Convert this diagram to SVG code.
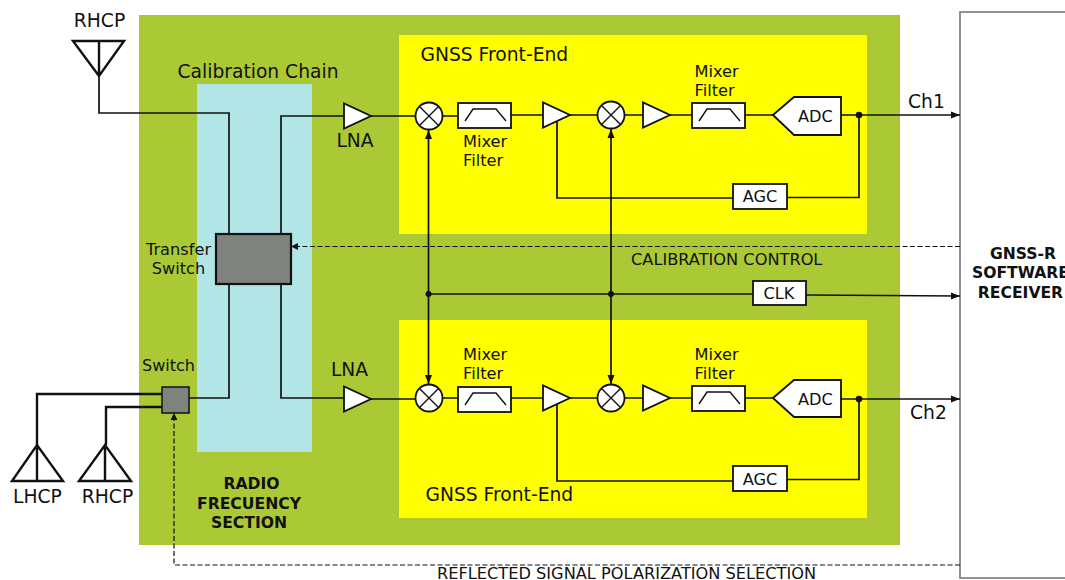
<svg xmlns="http://www.w3.org/2000/svg" width="1065" height="580" viewBox="0 0 1065 580">
<style>
text{font-family:"DejaVu Sans",sans-serif;fill:#111}
.t18{font-size:18.7px}.t15{font-size:16.2px}.b{font-size:15.6px;font-weight:bold;text-anchor:middle}
.c{text-anchor:middle}
.w{fill:none;stroke:#111;stroke-width:1.7}
.wb{fill:none;stroke:#111;stroke-width:2.4}
.d{fill:none;stroke:#111;stroke-width:1.2;stroke-dasharray:5 2.5}
.n{fill:#fff;stroke:#111;stroke-width:1.8}
.g{fill:#7f827d;stroke:#111}
.x{fill:none;stroke:#111;stroke-width:1.4}
</style>
<defs>
<marker id="a" markerUnits="userSpaceOnUse" markerWidth="10" markerHeight="8" refX="9" refY="4" orient="auto-start-reverse"><path d="M0 0.5L9 4L0 7.5z" fill="#111"/></marker>
<marker id="s" markerUnits="userSpaceOnUse" markerWidth="8" markerHeight="7" refX="7" refY="3.500" orient="auto"><path d="M0 0L7 3.500L0 7z" fill="#111"/></marker>
<g id="mix"><circle r="13.5" class="n"/><path d="M-9.5 -9.5L9.5 9.5M-9.5 9.5L9.5 -9.5" class="x"/></g>
<g id="flt"><rect width="53" height="25" class="n"/><path d="M7 18L15 6H38L48 18" class="x"/></g>
<polygon id="amp" points="0,-12.5 0,12.5 27,0" class="n"/>
</defs>
<g id="backgrounds">
<rect x="139" y="15" width="761" height="530" fill="#abc934"/>
<rect x="197" y="84" width="115" height="368" fill="#b2e6e6"/>
<rect x="399" y="35" width="468" height="199" fill="#ff0"/>
<rect x="399" y="320" width="468" height="198" fill="#ff0"/>
</g>
<g id="receiver"><rect x="960" y="12" width="120" height="566" fill="#fff" stroke="#777" stroke-width="1.6"/>
<text class="b" x="1023" y="259">GNSS-R</text><text class="b" x="1020.500" y="278">SOFTWARE</text><text class="b" x="1020.500" y="298">RECEIVER</text></g>
<g id="connectors">
<path class="w" d="M99 76V113H229V234M229 284V398H189M281 234V116H344M371 116H415M443 116H458M511 115H543M570 115H597M625 115H643M670 115H692M745 115H773M841 115H859M859 115V197.5H787M733 198H557V118"/>
<path class="w" marker-end="url(#a)" d="M859 115H960"/>
<path class="w" d="M281 284V398H344M371 399H415M443 398H458M511 398H543M570 398H597M625 398H643M670 398H692M745 398H773M841 399H859M859 399V479.5H787M733 481H557V405"/>
<path class="w" marker-end="url(#a)" d="M859 399H960"/>
<path class="w" marker-start="url(#a)" marker-end="url(#a)" d="M428.500 130V384"/>
<path class="w" marker-start="url(#a)" marker-end="url(#a)" d="M611 129V384"/>
<path class="w" d="M428 294H753"/>
<path class="w" marker-end="url(#a)" d="M806 295L960 296"/>
<path class="wb" d="M162 394H37V445M162 407H106V445"/>
<path class="d" marker-end="url(#s)" d="M960 246.500H291"/>
<path class="d" marker-end="url(#s)" d="M960 565H174V413"/>
<circle cx="428.500" cy="294" r="3" fill="#111"/><circle cx="611" cy="294" r="3" fill="#111"/>
<circle cx="859" cy="115" r="3.300" fill="#111"/><circle cx="859" cy="399" r="3.300" fill="#111"/>
</g>
<g id="ant-rhcp-top"><path class="wb" d="M73 41H124L99 76zM99 41V76"/><text class="t18 c" x="99.500" y="27">RHCP</text></g>
<g id="ant-lhcp"><path class="wb" d="M12 481H63L37 445zM37 445V481"/><text class="t18 c" x="37.500" y="503">LHCP</text></g>
<g id="ant-rhcp-bottom"><path class="wb" d="M79 481H131L105 445zM105 445V481"/><text class="t18 c" x="107.500" y="503">RHCP</text></g>
<g id="transfer-switch"><rect x="216" y="234" width="75" height="50" class="g" stroke-width="2.2"/><text class="t15 c" x="178.500" y="255">Transfer</text><text class="t15 c" x="178.500" y="274">Switch</text></g>
<g id="switch"><rect x="162" y="387" width="27" height="26" class="g" stroke-width="1.500"/><text class="c" font-size="16" x="168.500" y="371">Switch</text></g>
<g id="lna1"><use href="#amp" x="344" y="116"/><text class="t18 c" x="355" y="147">LNA</text></g>
<g id="lna2"><use href="#amp" x="344" y="399"/><text class="t18 c" x="349.500" y="376">LNA</text></g>
<g id="front-end-1">
<use href="#mix" x="429" y="116"/><use href="#flt" x="458" y="103"/><use href="#amp" x="543" y="115"/><use href="#mix" x="611" y="115"/><use href="#amp" x="643" y="115"/><use href="#flt" x="692" y="103"/>
<polygon points="773,115 794,97 841,97 841,135 794,135" class="n"/><text class="t15" x="798" y="122">ADC</text>
<rect x="733" y="184" width="54" height="25" class="n"/><text class="t15 c" x="760" y="202">AGC</text>
<text class="t18" x="420.500" y="61">GNSS Front-End</text>
<text class="t15" x="463" y="147">Mixer</text><text class="t15" x="463" y="166">Filter</text>
<text class="t15" x="694.500" y="77">Mixer</text><text class="t15" x="694.500" y="96">Filter</text>
</g>
<g id="front-end-2">
<use href="#mix" x="429" y="398"/><use href="#flt" x="458" y="387"/><use href="#amp" x="543" y="398"/><use href="#mix" x="611" y="398"/><use href="#amp" x="643" y="398"/><use href="#flt" x="692" y="386"/>
<polygon points="773,398 794,380 841,380 841,417 794,417" class="n"/><text class="t15" x="798" y="405">ADC</text>
<rect x="733" y="466" width="54" height="25" class="n"/><text class="t15 c" x="760" y="485">AGC</text>
<text class="t18" x="425.500" y="501">GNSS Front-End</text>
<text class="t15" x="463" y="360">Mixer</text><text class="t15" x="463" y="379">Filter</text>
<text class="t15" x="694.500" y="360">Mixer</text><text class="t15" x="694.500" y="379">Filter</text>
</g>
<g id="clk"><rect x="753" y="281" width="53" height="24" class="n"/><text class="t15 c" x="779" y="299">CLK</text></g>
<g id="labels">
<text class="t18" x="177.500" y="78">Calibration Chain</text>
<text class="t18" x="908" y="108">Ch1</text>
<text class="t18" x="910" y="419">Ch2</text>
<text class="t15" x="631" y="265">CALIBRATION CONTROL</text>
<text class="t15" x="437" y="578.500">REFLECTED SIGNAL POLARIZATION SELECTION</text>
<text class="b" x="251.500" y="489">RADIO</text><text class="b" x="249" y="509">FRECUENCY</text><text class="b" x="249" y="528">SECTION</text>
</g>
</svg>
